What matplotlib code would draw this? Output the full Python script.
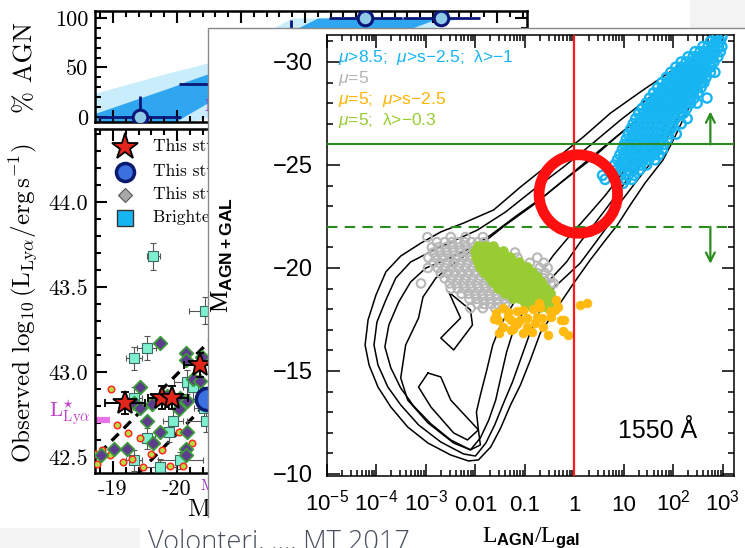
import numpy as np
import matplotlib
matplotlib.use("Agg")
import matplotlib.pyplot as plt
from matplotlib.patches import Rectangle
from matplotlib.ticker import MultipleLocator, LogLocator, NullFormatter

plt.rcParams["mathtext.fontset"] = "custom"
plt.rcParams["mathtext.rm"] = "Liberation Sans"
plt.rcParams["mathtext.it"] = "Liberation Sans:italic"
plt.rcParams["mathtext.bf"] = "Liberation Sans:bold"

# ---------------- background figure: % AGN and Lya luminosity vs M_UV ----------------
band_M = [-18.6, -19.95, -20.15, -20.5, -21.8, -22.2, -24.1, -24.4, -25.6]
light_hi = [22, 46, 49, 55, 100, 100, 100, 100, 100]
light_lo = [-20, -10, -6, 0, 33, 44, 92, 100, 100]
dark_hi = [1, 31, 36, 44, 87, 100, 100, 100, 100]
dark_lo = [-20, -6, 2, 15, 46, 55, 100, 100, 100]

agn_M = [-19.42, -21.78, -22.94, -24.13]
agn_pct = [0, 33, 100, 100]
agn_xerr = [0.65, 1.75, 0.57, 0.60]
agn_yerr_lo = [0, 20, 0, 0]
agn_yerr_hi = [21, 65, 0, 0]

star_M = [-19.19, -19.77, -19.92, -20.36]
star_L = [42.82, 42.85, 42.85, 43.04]
star_xerr = [0.31, 0.22, 0.25, 0.25]
star_yerr = [0.065, 0.07, 0.07, 0.07]

stack_M = [-20.47]
stack_L = [42.84]

sq_M = [-19.63, -20.44, -19.53, -19.33, -20.16, -20.25, -19.33, -19.94, -19.88,
        -19.53, -19.73, -19.33, -20.05, -20.45, -20.42]
sq_L = [43.68, 43.36, 43.14, 43.08, 42.94, 42.91, 42.85, 42.71, 42.65,
        42.61, 42.44, 42.48, 42.48, 42.71, 42.79]
sq_xerr = [0.10, 0.25, 0.15, 0.12, 0.20, 0.15, 0.12, 0.15, 0.15,
           0.12, 0.25, 0.12, 0.35, 0.30, 0.15]
sq_yerr = [0.08, 0.08, 0.07, 0.07, 0.07, 0.07, 0.06, 0.08, 0.06,
           0.06, 0.05, 0.06, 0.05, 0.06, 0.06]

dia_M = [-19.73, -20.14, -20.14, -20.39, -19.43, -20.25, -20.36, -19.33, -19.42,
         -20.05, -20.16, -19.53, -20.03, -19.73, -20.16, -19.02, -19.22, -20.14,
         -20.14, -18.81, -19.63, -19.84, -19.61]
dia_L = [43.17, 43.11, 43.07, 43.09, 42.91, 42.96, 42.95, 42.82, 42.79,
         42.85, 42.83, 42.71, 42.78, 42.65, 42.65, 42.55, 42.55, 42.55,
         42.51, 42.51, 42.58, 42.86, 42.81]

ind_M = [-18.97, -19.06, -19.23, -19.42, -18.72, -18.83, -18.95, -18.75, -19.16,
         -19.30, -19.47, -19.59, -19.77, -19.89, -20.03, -20.23, -20.33, -20.09]
ind_L = [42.90, 42.69, 42.64, 42.61, 42.52, 42.54, 42.51, 42.46, 42.47,
         42.49, 42.44, 42.52, 42.54, 42.45, 42.65, 42.58, 42.96, 42.45]

dash1_M = [-18.6, -21.0]
dash1_L = [42.45, 43.37]
dash2_M = [-19.2, -21.0]
dash2_L = [42.33, 43.02]
L_star = 42.72

legend_labels = ["This study (stacks)", "This study (X-ray stack)",
                 "This study (individual)", "Brighter LAEs (literature)"]

# ---------------- overlay figure: M_AGN+GAL vs L_AGN/L_gal ----------------
# contours: (log10 L_AGN/L_gal, M_AGN+GAL)
contour_1 = [(2.54, -30.19), (2.08, -29.76), (1.39, -28.64), (0.73, -27.52), (0.18, -26.36),
             (-0.48, -25.10), (-1.09, -23.93), (-1.63, -22.82), (-2.24, -22.18), (-2.70, -21.75),
             (-3.10, -21.21), (-3.51, -20.58), (-3.81, -19.81), (-4.01, -18.69), (-4.17, -17.48),
             (-4.23, -16.26), (-4.15, -15.29), (-3.97, -14.22), (-3.71, -13.25), (-3.37, -12.28),
             (-2.96, -11.50), (-2.50, -10.92), (-2.14, -10.63), (-1.94, -10.68), (-1.69, -11.31),
             (-1.49, -12.23), (-1.29, -13.35), (-1.09, -14.32), (-0.89, -15.53), (-0.69, -16.84),
             (-0.38, -17.96), (-0.04, -19.17), (0.32, -20.39), (0.63, -21.36), (0.87, -22.09),
             (1.13, -23.06), (1.43, -24.13), (1.79, -25.24), (2.00, -26.21), (2.24, -27.43),
             (2.48, -28.54), (2.64, -29.61)]
contour_2 = [(2.50, -30.00), (2.14, -29.37), (1.53, -28.30), (0.93, -27.18), (0.38, -26.07),
             (-0.22, -24.90), (-0.83, -23.79), (-1.39, -22.72), (-1.96, -21.84), (-2.40, -21.36),
             (-2.84, -20.87), (-3.31, -20.29), (-3.61, -19.51), (-3.81, -18.45), (-3.99, -17.38),
             (-4.05, -16.26), (-3.97, -15.29), (-3.77, -14.22), (-3.51, -13.35), (-3.15, -12.38),
             (-2.70, -11.55), (-2.24, -10.97), (-2.00, -10.87), (-1.79, -11.50), (-1.61, -12.38),
             (-1.43, -13.45), (-1.25, -14.47), (-1.07, -15.68), (-0.89, -16.89), (-0.69, -17.96),
             (-0.42, -19.03), (0.12, -20.24), (0.42, -21.21), (0.69, -22.09), (0.89, -23.06),
             (1.23, -24.13), (1.59, -25.24), (1.85, -26.21), (2.10, -27.33), (2.34, -28.50),
             (2.50, -29.51)]
contour_3 = [(2.46, -29.81), (2.22, -29.03), (1.69, -28.01), (1.09, -26.84), (0.52, -25.73),
             (-0.04, -24.61), (-0.58, -23.54), (-1.15, -22.57), (-1.69, -21.60), (-2.10, -20.97),
             (-2.50, -20.49), (-3.00, -20.00), (-3.31, -19.32), (-3.55, -18.35), (-3.75, -17.23),
             (-3.83, -16.17), (-3.71, -15.15), (-3.51, -14.17), (-3.25, -13.30), (-2.90, -12.43),
             (-2.50, -11.65), (-2.10, -11.17), (-1.90, -11.75), (-1.73, -12.62), (-1.59, -13.59),
             (-1.49, -14.66), (-1.37, -15.92), (-1.23, -16.99), (-0.99, -18.06), (-0.63, -19.08),
             (-0.16, -20.29), (0.12, -21.26), (0.42, -22.18), (0.73, -23.16), (1.03, -24.17),
             (1.39, -25.24), (1.69, -26.21), (1.94, -27.28), (2.22, -28.40), (2.40, -29.37)]
contour_4 = [(2.42, -29.61), (1.98, -28.64), (1.43, -27.52), (0.87, -26.41), (0.32, -25.24),
             (-0.28, -24.13), (-0.83, -23.06), (-1.39, -22.09), (-1.90, -21.12), (-2.40, -20.29),
             (-2.80, -19.51), (-3.06, -18.59), (-3.15, -17.57), (-3.41, -16.26), (-3.51, -14.66),
             (-3.37, -13.59), (-2.96, -12.48), (-2.44, -11.50), (-2.10, -11.17), (-1.90, -11.41),
             (-1.94, -12.14), (-1.98, -13.01), (-1.90, -13.83), (-1.77, -15.05), (-1.65, -16.26),
             (-1.49, -17.23), (-1.19, -18.45), (-0.75, -19.51), (-0.42, -20.63), (-0.08, -21.60),
             (0.28, -22.57), (0.63, -23.54), (0.97, -24.61), (1.33, -25.73), (1.63, -26.70),
             (1.90, -27.67), (2.18, -28.64), (2.38, -29.37)]
contour_inner_a = [(-2.54, -18.83), (-2.10, -17.96), (-2.06, -17.23), (-2.44, -16.02),
                   (-2.70, -16.60), (-2.30, -17.57)]
contour_inner_b = [(-2.96, -14.90), (-2.70, -14.71), (-2.50, -13.59), (-1.94, -12.14),
                   (-2.16, -11.65), (-2.44, -11.99), (-2.90, -13.25), (-3.15, -14.22)]

# point clouds, row by row: M_AGN+GAL -> list of log10(L_AGN/L_gal)
cyan_rows = {
    -24.10: [0.98],
    -24.30: [0.62, 1.04, 1.16],
    -24.50: [0.57, 0.79, 0.94, 1.09, 1.21],
    -24.75: [0.70, 0.84, 0.97, 1.09, 1.20, 1.31],
    -25.00: [0.81, 0.93, 1.04, 1.14, 1.24, 1.34, 1.46],
    -25.25: [0.87, 0.98, 1.08, 1.18, 1.28, 1.39, 1.50, 1.63],
    -25.50: [0.92, 1.02, 1.12, 1.22, 1.32, 1.42, 1.52, 1.62, 1.71],
    -25.75: [0.97, 1.07, 1.17, 1.27, 1.37, 1.47, 1.57, 1.67, 1.78],
    -26.00: [1.01, 1.11, 1.21, 1.31, 1.41, 1.51, 1.61, 1.71, 1.81],
    -26.25: [1.05, 1.15, 1.25, 1.35, 1.45, 1.55, 1.65, 1.75, 1.88],
    -26.50: [1.09, 1.19, 1.29, 1.39, 1.49, 1.59, 1.69, 1.79, 1.90, 2.06],
    -26.75: [1.14, 1.24, 1.34, 1.44, 1.54, 1.64, 1.74, 1.84, 1.95],
    -27.00: [1.19, 1.29, 1.39, 1.49, 1.59, 1.69, 1.79, 1.89, 1.99, 2.16],
    -27.25: [1.24, 1.34, 1.44, 1.54, 1.64, 1.74, 1.84, 1.94, 2.04, 2.28],
    -27.50: [1.30, 1.40, 1.50, 1.60, 1.70, 1.80, 1.90, 2.00, 2.10, 2.20],
    -27.75: [1.37, 1.47, 1.57, 1.67, 1.77, 1.87, 1.97, 2.07, 2.17, 2.27],
    -28.00: [1.45, 1.55, 1.65, 1.75, 1.85, 1.95, 2.05, 2.15, 2.25, 2.35, 2.48],
    -28.25: [1.52, 1.62, 1.72, 1.82, 1.92, 2.02, 2.12, 2.22, 2.32, 2.42, 2.68],
    -28.50: [1.60, 1.70, 1.80, 1.90, 2.00, 2.10, 2.20, 2.30, 2.40, 2.50],
    -28.75: [1.68, 1.78, 1.88, 1.98, 2.08, 2.18, 2.28, 2.38, 2.48, 2.56],
    -29.00: [1.77, 1.87, 1.97, 2.07, 2.17, 2.27, 2.37, 2.47, 2.57, 2.62],
    -29.25: [1.86, 1.96, 2.06, 2.16, 2.26, 2.36, 2.46, 2.56, 2.66],
    -29.50: [1.95, 2.05, 2.15, 2.25, 2.35, 2.45, 2.55, 2.65, 2.75, 2.84],
    -29.75: [2.05, 2.15, 2.25, 2.35, 2.45, 2.55, 2.65, 2.75],
    -30.00: [2.16, 2.26, 2.36, 2.46, 2.56, 2.66, 2.76, 2.82],
    -30.25: [2.30, 2.40, 2.50, 2.60, 2.70, 2.80, 2.90],
    -30.50: [2.44, 2.54, 2.64, 2.74, 2.84, 2.95],
    -30.75: [2.60, 2.70, 2.80, 2.90, 2.98],
    -31.00: [2.75, 2.85, 2.95],
    -31.20: [2.88, 2.98],
}
grey_rows = {
    -21.50: [-2.97, -2.50, -2.20, -1.85],
    -21.25: [-2.78, -2.62, -2.48, -2.35, -2.22, -2.08, -1.95, -1.82],
    -21.00: [-2.88, -2.74, -2.60, -2.46, -2.32, -2.18, -2.04, -1.90, -1.76],
    -20.75: [-2.85, -2.72, -2.58, -2.44, -2.30, -2.16, -2.02, -1.88, -1.74, -1.20],
    -20.50: [-2.95, -2.80, -2.66, -2.52, -2.38, -2.24, -2.10, -1.96, -1.82, -1.15, -0.75],
    -20.25: [-2.85, -2.72, -2.58, -2.44, -2.30, -2.16, -2.02, -1.88, -1.74, -0.90, -0.62],
    -20.00: [-2.96, -2.76, -2.62, -2.48, -2.34, -2.20, -2.06, -1.92, -1.78, -1.64, -0.70, -0.54],
    -19.75: [-2.70, -2.56, -2.42, -2.28, -2.14, -2.00, -1.86, -1.72, -1.58, -0.75, -0.60],
    -19.50: [-2.62, -2.48, -2.34, -2.20, -2.06, -1.92, -1.78, -1.64, -1.50, -0.62, -0.50],
    -19.25: [-3.10, -2.52, -2.38, -2.24, -2.10, -1.96, -1.82, -1.68, -1.54, -1.40, -0.48, -0.42],
    -19.00: [-2.50, -2.36, -2.22, -2.08, -1.94, -1.80, -1.66, -1.52, -1.38, -0.62],
    -18.75: [-2.28, -2.14, -2.00, -1.86, -1.72, -1.58, -1.44, -1.30],
    -18.50: [-2.12, -1.98, -1.84, -1.70, -1.56, -1.42, -1.28],
    -18.25: [-1.95, -1.82, -1.68, -1.55, -1.40],
    -18.05: [-2.10, -1.85, -1.60],
}
green_rows = {
    -21.05: [-1.95, -1.80, -1.65],
    -20.80: [-2.00, -1.86, -1.72, -1.58, -1.44],
    -20.55: [-1.98, -1.84, -1.70, -1.56, -1.42, -1.30],
    -20.30: [-1.94, -1.80, -1.66, -1.52, -1.38, -1.24, -1.12],
    -20.05: [-1.90, -1.76, -1.62, -1.48, -1.34, -1.20, -1.06, -0.95],
    -19.80: [-1.82, -1.68, -1.54, -1.40, -1.26, -1.12, -0.98, -0.86],
    -19.55: [-1.72, -1.58, -1.44, -1.30, -1.16, -1.02, -0.88, -0.76],
    -19.30: [-1.64, -1.50, -1.36, -1.22, -1.08, -0.94, -0.80, -0.68],
    -19.05: [-1.55, -1.41, -1.27, -1.13, -0.99, -0.85, -0.71, -0.60],
    -18.80: [-1.40, -1.26, -1.12, -0.98, -0.84, -0.70, -0.58, -0.50],
    -18.55: [-1.25, -1.11, -0.97, -0.83, -0.69, -0.56, -0.48],
    -18.30: [-1.00, -0.86, -0.72, -0.60, -0.52],
    -18.10: [-0.85, -0.70, -0.56],
}
orange_logx = [-1.59, -1.45, -1.35, -1.55, -1.45, -1.53, -1.25, -1.15, -1.03, -0.83, -0.69, -1.09,
               -0.95, -1.03, -0.85, -0.79, -0.63, -0.54, -0.65, -0.48, -0.40, -0.34, -0.38, -0.71,
               -0.50, -0.28, -0.22, -0.24, -0.12, -1.29, -1.15, -0.75, -0.95, 0.12, 0.26,
               -1.63, -1.29, -1.35]
orange_M = [-17.82, -18.06, -17.62, -17.48, -17.14, -16.84, -17.04, -17.91, -17.96, -18.01, -18.11, -17.48,
            -17.14, -16.84, -16.89, -17.33, -17.14, -16.75, -17.57, -17.62, -17.96, -18.11, -18.45, -18.30,
            -17.91, -17.48, -17.48, -16.94, -16.75, -17.48, -17.28, -17.62, -17.57, -18.20, -18.30,
            -17.52, -16.99, -17.86]

sel_labels = [r"$\mu$>8.5;  $\mu$>s−2.5;  λ>−1", r"$\mu$=5",
              r"$\mu$=5;  $\mu$>s−2.5", r"$\mu$=5;  λ>−0.3"]
sel_colors = ["#17b5f2", "#b4b4b4", "#ffb400", "#99cc33"]

W, H = 745, 548
fig = plt.figure(figsize=(W / 100, H / 100), dpi=100)


def box(l, t, r, b):
    return [l / W, 1 - b / H, (r - l) / W, (b - t) / H]


def rows_to_xy(rows):
    xs = [10 ** v for m, vals in rows.items() for v in vals]
    ys = [m for m, vals in rows.items() for v in vals]
    return xs, ys


CM = dict(fontfamily="cmr10", math_fontfamily="cm")

# ---- top panel: % AGN
ax_top = fig.add_axes(box(95, 11, 527, 122))
ax_top.fill_between(band_M, light_lo, light_hi, color="#c9edfb", lw=0)
ax_top.fill_between(band_M, dark_lo, dark_hi, color="#2fa6ef", lw=0)
ax_top.errorbar(agn_M, agn_pct, xerr=agn_xerr, yerr=[agn_yerr_lo, agn_yerr_hi], fmt="o",
                ms=10.5, mfc="#8fcbe6", mec="#0a1778", mew=2.2, ecolor="#0a1778",
                elinewidth=2, capsize=0, zorder=5)
ax_top.text(-20.42, 11, r"$\mathrm{M}^{\star}_{\mathrm{UV}}$", color="#a030c0",
            fontsize=12, va="center", math_fontfamily="cm")
ax_top.set_xlim(-18.72, -25.47)
ax_top.set_ylim(-5, 107)
ax_top.set_yticks([0, 50, 100], labels=["0", "50", "100"], fontsize=16, **CM)
ax_top.yaxis.set_minor_locator(MultipleLocator(10))
ax_top.xaxis.set_major_locator(MultipleLocator(1))
ax_top.xaxis.set_minor_locator(MultipleLocator(0.2))
ax_top.tick_params(axis="x", labelbottom=False)
ax_top.set_ylabel("% AGN", fontsize=19, **CM)
ax_top.yaxis.set_label_coords(-0.134, 0.49)

# ---- lower panel: Lya luminosity
ax_lo = fig.add_axes(box(95, 129, 527, 473))
ax_lo.plot(dash1_M, dash1_L, color="k", lw=2.4, dashes=(3, 2.2), zorder=2)
ax_lo.plot(dash2_M, dash2_L, color="k", lw=2.4, dashes=(3, 2.2), zorder=2)
ax_lo.errorbar(sq_M, sq_L, xerr=sq_xerr, yerr=sq_yerr, fmt="s", ms=7, mfc="#7ff0cf",
               mec="#3c6a62", mew=0.8, ecolor="#555555", elinewidth=0.8, capsize=2, zorder=3)
ax_lo.scatter(ind_M, ind_L, s=22, c="#b7dd45", edgecolors="#ff2a20", linewidths=1.1, zorder=4)
ax_lo.scatter(dia_M, dia_L, s=48, marker="D", c="#5d3c8e", edgecolors="#3d9a3a",
              linewidths=1.3, zorder=4)
ax_lo.errorbar(star_M, star_L, xerr=star_xerr, yerr=star_yerr, fmt="*", ms=18,
               mfc="#e2261b", mec="k", mew=1.3, ecolor="k", elinewidth=1.4, capsize=3, zorder=6)
ax_lo.plot(stack_M, stack_L, "o", ms=16, mfc="#3a70e0", mec="#0a1a6e", mew=2.5, zorder=6)
ax_lo.axhline(L_star, xmin=0, xmax=0.035, color="#e673e6", lw=4.5, solid_capstyle="butt")
ax_lo.text(-0.058, L_star + 0.045, r"$\mathrm{L}^{\star}_{\mathrm{Ly}\alpha}$",
           transform=ax_lo.get_yaxis_transform(), color="#c040c8", fontsize=15,
           ha="center", va="center", math_fontfamily="cm")
ax_lo.set_xlim(-18.72, -25.47)
ax_lo.set_ylim(42.406, 44.43)
ax_lo.set_xticks([-19, -20, -21, -22, -23, -24, -25],
                 labels=["-19", "-20", "-21", "-22", "-23", "-24", "-25"], fontsize=16, **CM)
ax_lo.set_yticks([42.5, 43.0, 43.5, 44.0], labels=["42.5", "43.0", "43.5", "44.0"],
                 fontsize=16, **CM)
ax_lo.xaxis.set_minor_locator(MultipleLocator(0.2))
ax_lo.yaxis.set_minor_locator(MultipleLocator(0.1))

# legend of the lower panel
leg_y = [0.948, 0.875, 0.808, 0.741]
leg_styles = [dict(marker="*", ms=20, mfc="#e2261b", mec="k", mew=1.3),
              dict(marker="o", ms=13, mfc="#3a70e0", mec="#0a1a6e", mew=2.5),
              dict(marker="D", ms=7.5, mfc="#a8a8a8", mec="#555555", mew=0.8),
              dict(marker="s", ms=12, mfc="#17b5f2", mec="#333333", mew=1.0)]
for yy, st, lab in zip(leg_y, leg_styles, legend_labels):
    ax_lo.plot([0.069], [yy], transform=ax_lo.transAxes, ls="none", clip_on=False, **st)
    ax_lo.text(0.134, yy, lab, transform=ax_lo.transAxes, fontsize=12.5, va="center", **CM)

for ax in (ax_top, ax_lo):
    ax.tick_params(which="both", direction="in", top=True, right=True, width=1.5, pad=5)
    ax.tick_params(which="major", length=8.5)
    ax.tick_params(which="minor", length=4.5)
    for sp in ax.spines.values():
        sp.set_linewidth(1.8)

fig.text(24 / W, 1 - 303 / H,
         r"Observed $\log_{10}(\mathrm{L}_{\mathrm{Ly}\alpha}/\mathrm{erg\,s}^{-1})$",
         rotation=90, ha="center", va="center", fontsize=18, **CM)
fig.text(200 / W, 1 - 487 / H, r"$\mathrm{M}^{\star}_{\mathrm{UV}}$", color="#a030c0",
         fontsize=11, va="center", math_fontfamily="cm", zorder=1)
fig.text(187 / W, 1 - 510 / H, r"$\mathrm{M_{UV}}$", fontsize=18, va="center",
         math_fontfamily="cm", zorder=1)

# ---- slide decoration and overlay sheet
fig.add_artist(Rectangle((690 / W, 1 - 28 / H), 60 / W, 30 / H, transform=fig.transFigure,
                         facecolor="#f3f3f3", lw=0, zorder=1))
fig.add_artist(Rectangle((208 / W, -0.1), 1.0, 1.1 - 28 / H, transform=fig.transFigure,
                         facecolor="white", edgecolor="#8a8a8a", lw=1.0, zorder=2))
fig.add_artist(Rectangle((0, 0), 140 / W, 20 / H, transform=fig.transFigure,
                         facecolor="#f3f3f3", lw=0, zorder=4))
fig.add_artist(Rectangle((140 / W, 0), 280 / W, 30 / H, transform=fig.transFigure,
                         facecolor="white", lw=0, zorder=4))
fig.text(148 / W, -2 / H, "Volonteri, ..., MT 2017", fontsize=19.5, color="#4a5060",
         fontfamily="Open Sans", fontweight="light", va="baseline", zorder=5)

# ---- overlay chart
ax_r = fig.add_axes(box(327, 35, 734, 476))
ax_r.set_zorder(3)
ax_r.set_xscale("log")

for cont in (contour_1, contour_2, contour_3, contour_4, contour_inner_a, contour_inner_b):
    lx = [10 ** p[0] for p in cont] + [10 ** cont[0][0]]
    my = [p[1] for p in cont] + [cont[0][1]]
    ax_r.plot(lx, my, color="k", lw=1.1, zorder=2)

gx, gy = rows_to_xy(grey_rows)
ax_r.scatter(gx, gy, s=38, facecolors="none", edgecolors="#b8b8b8", linewidths=1.5, zorder=3)
grx, gry = rows_to_xy(green_rows)
ax_r.scatter(grx, gry, s=50, c="#99cc33", edgecolors="#99cc33", linewidths=0.5, zorder=4)
ax_r.scatter([10 ** v for v in orange_logx], orange_M, s=40, c="#ffb90f",
             edgecolors="#ffb90f", linewidths=0.5, zorder=5)
cx, cy = rows_to_xy(cyan_rows)
ax_r.scatter(cx, cy, s=44, facecolors="none", edgecolors="#17b5f2", linewidths=1.7, zorder=4)

ax_r.axvline(1, color="#ff1a1a", lw=1.6, zorder=6)
ax_r.axhline(-26, color="#2a8c1e", lw=1.5, zorder=6)
ax_r.axhline(-22, color="#2a8c1e", lw=1.5, dashes=(5, 3.5), zorder=6)
arrow = dict(arrowstyle="->", color="#2a8c1e", lw=1.6, mutation_scale=16, shrinkA=0, shrinkB=0)
ax_r.annotate("", xy=(560, -27.6), xytext=(560, -26.0), arrowprops=arrow, zorder=6)
ax_r.annotate("", xy=(560, -20.2), xytext=(560, -22.0), arrowprops=arrow, zorder=6)
ax_r.scatter([1.2], [-23.59], s=56.5 ** 2, facecolors="none", edgecolors="#ff1010",
             linewidths=7.8, zorder=7)

for i, (lab, col) in enumerate(zip(sel_labels, sel_colors)):
    ax_r.text(0.027, 0.949 - 0.048 * i, lab, color=col, fontsize=12.5,
              fontfamily="Liberation Sans", va="center", transform=ax_r.transAxes)
ax_r.text(0.909, 0.103, "1550 Å", fontsize=18, fontfamily="Liberation Sans",
          ha="right", va="center", transform=ax_r.transAxes)

ax_r.set_xlim(1e-5, 10 ** 3.226)
ax_r.set_ylim(-9.9, -31.31)
ax_r.set_xticks([1e-5, 1e-4, 1e-3, 1e-2, 1e-1, 1, 10, 100, 1000],
                labels=[r"$10^{-5}$", r"$10^{-4}$", r"$10^{-3}$", "0.01", "0.1", "1", "10",
                        r"$10^{2}$", r"$10^{3}$"],
                fontsize=16, fontfamily="Liberation Sans")
ax_r.xaxis.set_minor_locator(LogLocator(base=10, subs=np.arange(2, 10), numticks=20))
ax_r.xaxis.set_minor_formatter(NullFormatter())
ax_r.set_yticks([-30, -25, -20, -15, -10], labels=["−30", "−25", "−20", "−15", "−10"],
                fontsize=17, fontfamily="Liberation Sans")
ax_r.yaxis.set_minor_locator(MultipleLocator(1))
ax_r.tick_params(which="both", direction="in", top=True, right=True, width=1.1)
ax_r.tick_params(which="major", length=9)
ax_r.tick_params(which="minor", length=4.5)
ax_r.tick_params(axis="y", pad=10)
ax_r.tick_params(axis="x", pad=25)
for lab in ax_r.get_xticklabels():
    lab.set_va("baseline")
for sp in ax_r.spines.values():
    sp.set_linewidth(1.1)
ax_r.set_ylabel(r"M$_{\mathbf{AGN+GAL}}$", fontsize=18, fontfamily="Liberation Serif")
ax_r.yaxis.set_label_coords(-0.226, 0.5)
ax_r.set_xlabel(r"L$_{\mathbf{AGN}}$/L$_{\mathbf{gal}}$", fontsize=17,
                fontfamily="Liberation Serif")
ax_r.xaxis.set_label_coords(0.5, -0.112)

fig.savefig("out.png", dpi=100)
